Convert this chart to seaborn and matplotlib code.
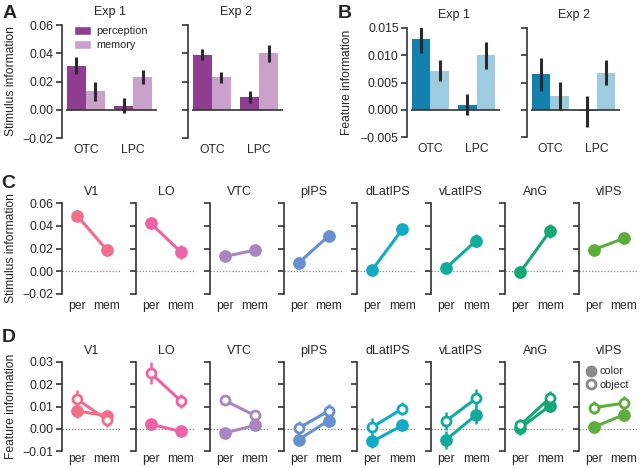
import numpy as np
import pandas as pd
import matplotlib
matplotlib.use("Agg")
import matplotlib.pyplot as plt
from matplotlib.lines import Line2D
from matplotlib.patches import Patch
from matplotlib.container import BarContainer
import seaborn as sns

# ---------------- data ----------------
bar_regions = ["OTC", "LPC"]
bar_conditions = ["perception", "memory"]

# Panel A: stimulus information (rows: perception, memory; cols: OTC, LPC)
A_exp1_mean = [[0.031, 0.003], [0.013, 0.023]]
A_exp1_err = [[0.006, 0.005], [0.007, 0.005]]
A_exp2_mean = [[0.039, 0.009], [0.023, 0.040]]
A_exp2_err = [[0.004, 0.004], [0.004, 0.006]]

# Panel B: feature information
B_exp1_mean = [[0.0130, 0.0009], [0.0072, 0.0100]]
B_exp1_err = [[0.0025, 0.0019], [0.0019, 0.0025]]
B_exp2_mean = [[0.0065, -0.0003], [0.0025, 0.0068]]
B_exp2_err = [[0.0030, 0.0028], [0.0026, 0.0023]]

rois = ["V1", "LO", "VTC", "pIPS", "dLatIPS", "vLatIPS", "AnG", "vIPS"]
roi_colors = ["#f0708a", "#ee62a6", "#a886c0", "#6790cf",
              "#11acc4", "#12ab9b", "#14a876", "#5cad3c"]
conds = ["per", "mem"]

# Panel C: stimulus information (per, mem)
C_mean = [[0.049, 0.0185], [0.042, 0.017], [0.013, 0.0185], [0.0073, 0.031],
          [0.0015, 0.037], [0.003, 0.027], [-0.001, 0.0356], [0.019, 0.029]]
C_err = [[0.005, 0.005], [0.005, 0.006], [0.002, 0.002], [0.005, 0.003],
         [0.003, 0.003], [0.0037, 0.006], [0.004, 0.006], [0.003, 0.004]]

# Panel D: feature information, color (filled) and object (open)
D_color_mean = [[0.008, 0.0058], [0.002, -0.0012], [-0.0019, 0.0015], [-0.0049, 0.0037],
                [-0.0057, 0.0015], [-0.0049, 0.0063], [0.0003, 0.0104], [0.0008, 0.0063]]
D_color_err = [[0.003, 0.002], [0.002, 0.0015], [0.001, 0.0015], [0.002, 0.002],
               [0.003, 0.002], [0.004, 0.004], [0.003, 0.003], [0.002, 0.003]]
D_object_mean = [[0.0133, 0.004], [0.025, 0.0125], [0.0127, 0.006], [0.0003, 0.008],
                 [0.0008, 0.009], [0.0036, 0.0137], [0.0015, 0.014], [0.0095, 0.0115]]
D_object_err = [[0.004, 0.003], [0.005, 0.003], [0.002, 0.002], [0.003, 0.003],
                [0.004, 0.003], [0.004, 0.004], [0.003, 0.003], [0.003, 0.003]]

# ---------------- style ----------------
sns.set_theme(style="ticks")
plt.rcParams["font.family"] = ["Liberation Sans", "DejaVu Sans"]
plt.rcParams["axes.unicode_minus"] = True

W, H = 640, 468
fig = plt.figure(figsize=(W / 100, H / 100), dpi=100)

SPINE = "#333333"
FS = 8.7


def add_ax(l, t, r, b):
    return fig.add_axes([l / W, 1 - b / H, (r - l) / W, (b - t) / H])


def style_ax(ax, yticks, show_labels, fmt, xpad=4):
    sns.despine(ax=ax, bottom=True)
    ax.spines["left"].set_color(SPINE)
    ax.spines["left"].set_linewidth(1.2)
    ax.set_ylim(yticks[0], yticks[-1])
    ax.set_yticks(yticks)
    if show_labels:
        ax.set_yticklabels([fmt.format(v).replace("-", "\u2212") for v in yticks])
    else:
        ax.set_yticklabels([])
    ax.tick_params(axis="y", direction="out", length=4, width=1.2, color=SPINE,
                   labelsize=FS, pad=2)
    ax.tick_params(axis="x", length=0, labelsize=FS, pad=xpad)
    ax.set_xlabel("")
    ax.set_ylabel("")
    ax.set_facecolor("none")


def put_ylabel(ax, text, xpix, left, width):
    ax.set_ylabel(text, fontsize=FS)
    ax.yaxis.set_label_coords((xpix - left) / width, 0.5)
    ax.yaxis.label.set_verticalalignment("center")
    ax.yaxis.label.set_horizontalalignment("center")


def bar_panel(ax, mean, err, palette, yticks, show, fmt, title, legend=False):
    rows = []
    for ci, c in enumerate(bar_conditions):
        for ri, r in enumerate(bar_regions):
            rows.append({"region": r, "condition": c, "value": mean[ci][ri]})
    df = pd.DataFrame(rows)
    sns.barplot(data=df, x="region", y="value", hue="condition",
                order=bar_regions, hue_order=bar_conditions,
                palette=palette, errorbar=None, width=0.8, saturation=1,
                linewidth=0, ax=ax, legend=False)
    bar_conts = [c for c in ax.containers if isinstance(c, BarContainer)]
    for ci, cont in enumerate(bar_conts):
        for ri, patch in enumerate(cont.patches):
            xc = patch.get_x() + patch.get_width() / 2
            ax.errorbar([xc], [mean[ci][ri]], yerr=[err[ci][ri]], fmt="none",
                        ecolor="#2a2a2a", elinewidth=2.2, capsize=0, zorder=5)
    ax.set_xlim(-0.5, 1.5)
    ax.hlines(0, -0.42, 1.5, color=SPINE, lw=1.2, zorder=4)
    style_ax(ax, yticks, show, fmt)
    ax.set_title(title, fontsize=FS + 0.3, pad=7)
    if legend:
        handles = [Patch(facecolor=palette[0], label="perception"),
                   Patch(facecolor=palette[1], label="memory")]
        ax.legend(handles=handles, loc="upper left", bbox_to_anchor=(0.08, 1.03),
                  frameon=False, fontsize=FS - 0.9, handlelength=1.6,
                  handleheight=0.9, handletextpad=0.5, labelspacing=0.35,
                  borderaxespad=0)


# Panel A
a_purple = ["#8e3d91", "#c9a1cb"]
yA = [-0.02, 0.0, 0.02, 0.04, 0.06]
axA1 = add_ax(62, 25, 157, 138)
bar_panel(axA1, A_exp1_mean, A_exp1_err, a_purple, yA, True, "{:.2f}", "Exp 1", legend=True)
axA2 = add_ax(188, 25, 283, 138)
bar_panel(axA2, A_exp2_mean, A_exp2_err, a_purple, yA, False, "{:.2f}", "Exp 2")
put_ylabel(axA1, "Stimulus information", 11, 62, 95)

# Panel B
b_blue = ["#1380ad", "#9dcbe0"]
yB = [-0.005, 0.0, 0.005, 0.010, 0.015]
axB1 = add_ax(407, 28, 500, 137)
bar_panel(axB1, B_exp1_mean, B_exp1_err, b_blue, yB, True, "{:.3f}", "Exp 1")
axB2 = add_ax(527, 28, 620, 137)
bar_panel(axB2, B_exp2_mean, B_exp2_err, b_blue, yB, False, "{:.3f}", "Exp 2")
put_ylabel(axB1, "Feature information", 347, 407, 93)


def point_series(ax, mean, err, color, open_marker=False):
    df = pd.DataFrame({"cond": conds, "value": mean})
    kw = dict(markerfacecolor="white", markeredgewidth=2.0) if open_marker else {}
    ax.errorbar([0, 1], mean, yerr=err, fmt="none", ecolor=color,
                elinewidth=1.8, capsize=0, zorder=2, clip_on=False)
    sns.pointplot(data=df, x="cond", y="value", order=conds, color=color,
                  errorbar=None, markersize=7.5 if not open_marker else 6.5,
                  linewidth=2.2, ax=ax, zorder=3, clip_on=False, **kw)


lefts = [62 + 73.86 * i for i in range(8)]
yC = [-0.02, 0.0, 0.02, 0.04, 0.06]
yD = [-0.01, 0.0, 0.01, 0.02, 0.03]

for i, roi in enumerate(rois):
    l = lefts[i]
    # Panel C
    axc = add_ax(l, 203, l + 60, 294)
    axc.axhline(0, color="#888888", lw=0.9, ls=(0, (1, 1.5)), zorder=1)
    point_series(axc, C_mean[i], C_err[i], roi_colors[i])
    axc.set_xlim(-0.5, 1.5)
    style_ax(axc, yC, i == 0, "{:.2f}")
    axc.set_title(roi, fontsize=FS + 0.3, pad=6)
    # Panel D
    axd = add_ax(l, 362, l + 60, 451)
    axd.axhline(0, color="#888888", lw=0.9, ls=(0, (1, 1.5)), zorder=1)
    point_series(axd, D_color_mean[i], D_color_err[i], roi_colors[i])
    point_series(axd, D_object_mean[i], D_object_err[i], roi_colors[i], open_marker=True)
    axd.set_xlim(-0.5, 1.5)
    style_ax(axd, yD, i == 0, "{:.2f}", xpad=1.5)
    axd.set_title(roi, fontsize=FS + 0.3, pad=6)
    if i == 0:
        put_ylabel(axc, "Stimulus information", 11, l, 60)
        put_ylabel(axd, "Feature information", 11, l, 60)
    if i == 7:
        handles = [Line2D([], [], marker="o", ls="none", color="#8a8a8a",
                          markersize=7.5, label="color"),
                   Line2D([], [], marker="o", ls="none", color="#8a8a8a",
                          markerfacecolor="white", markeredgewidth=2.0,
                          markersize=6.5, label="object")]
        axd.legend(handles=handles, loc="upper left", bbox_to_anchor=(0.05, 1.0),
                   frameon=False, fontsize=FS - 0.9, handlelength=0.8,
                   handletextpad=0.4, labelspacing=0.3, borderaxespad=0)

# panel letters
for letter, x, y in [("A", 10, 13), ("B", 345, 13), ("C", 8, 184), ("D", 9, 337)]:
    fig.text(x / W, 1 - y / H, letter, fontsize=14, fontweight="bold",
             ha="center", va="center")

fig.savefig("out.png", dpi=100)
